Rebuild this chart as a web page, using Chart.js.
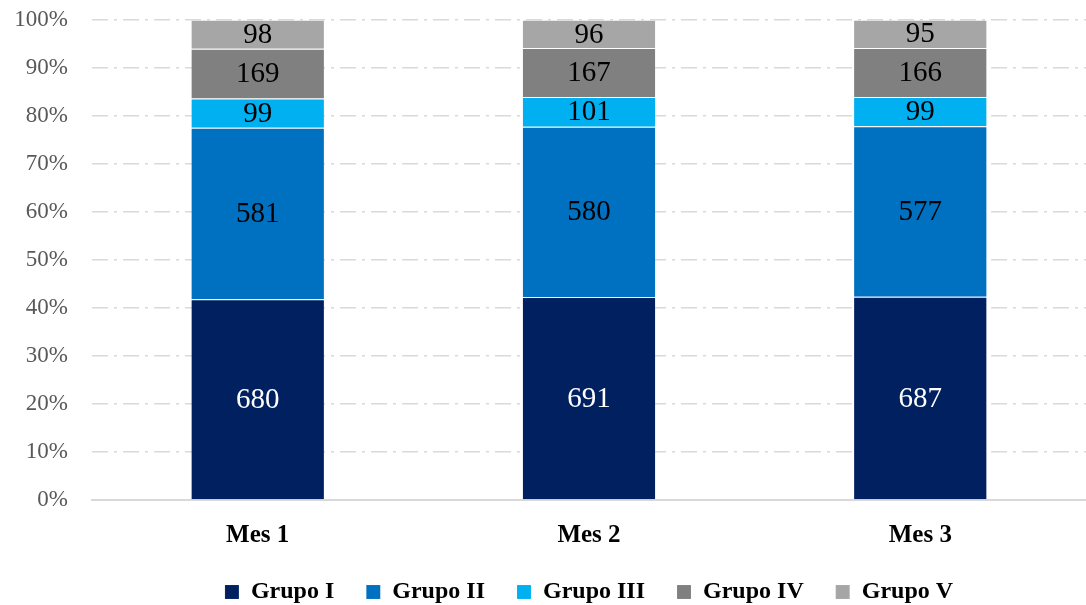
<!DOCTYPE html>
<html>
<head>
<meta charset="utf-8">
<script src="https://cdn.jsdelivr.net/npm/chart.js@4.4.1/dist/chart.umd.min.js"></script>
<style>
    html, body { margin: 0; padding: 0; background: #fff; }
    #wrap { width: 1086px; height: 605px; }
</style>
</head>
<body>
<div id="wrap"><canvas id="myCanvas" width="1086" height="605"></canvas></div>
<script>
const meses = ["Mes 1", "Mes 2", "Mes 3"];
const grupoI = [680, 691, 687];
const grupoII = [581, 580, 577];
const grupoIII = [99, 101, 99];
const grupoIV = [169, 167, 166];
const grupoV = [98, 96, 95];

const grupos = ["Grupo I", "Grupo II", "Grupo III", "Grupo IV", "Grupo V"];
const series = [grupoI, grupoII, grupoIII, grupoIV, grupoV];
const colores = ["#002060", "#0070C0", "#00B0F0", "#808080", "#A6A6A6"];
const colorTexto = ["#ffffff", "#000000", "#000000", "#000000", "#000000"];

const totales = meses.map((m, i) => series.reduce((s, d) => s + d[i], 0));

const fuente = "'Liberation Serif', 'DejaVu Serif', serif";

// etiquetas con el valor original dentro de cada segmento
const etiquetas = {
    id: "etiquetas",
    afterDatasetsDraw(chart) {
        const ctx = chart.ctx;
        ctx.save();
        ctx.font = "29px " + fuente;
        ctx.textAlign = "center";
        ctx.textBaseline = "middle";
        chart.data.datasets.forEach((ds, di) => {
            const meta = chart.getDatasetMeta(di);
            meta.data.forEach((bar, i) => {
                ctx.fillStyle = colorTexto[di];
                ctx.fillText(ds.valores[i], bar.x, (bar.y + bar.base) / 2 + 1);
            });
        });
        ctx.restore();
    }
};

// leyenda mas baja: se fija la altura despues del fit
const altoLeyenda = {
    id: "altoLeyenda",
    afterInit(chart) {
        const lg = chart.legend;
        const fitOrig = lg.fit.bind(lg);
        lg.fit = function () {
            fitOrig();
            this.height = 57;
        };
    }
};

const ctx = document.getElementById("myCanvas").getContext("2d");

var chart = new Chart(ctx, {
    type: "bar",
    data: {
        labels: meses,
        datasets: series.map((d, k) => ({
            label: grupos[k],
            data: d.map((v, i) => v / totales[i] * 100),
            valores: d,
            backgroundColor: colores[k],
            borderColor: "rgba(255,255,255,0.35)",
            borderWidth: { top: 1, bottom: 0, left: 0, right: 0 },
            borderSkipped: false,
            barPercentage: 0.4,
            categoryPercentage: 1.0
        }))
    },
    options: {
        responsive: false,
        animation: false,
        layout: {
            padding: { top: 0, left: 0, bottom: 0, right: 0 }
        },
        scales: {
            x: {
                stacked: true,
                afterFit(scale) { scale.height = 48; },
                grid: { display: false },
                border: { display: true, color: "#d9d9d9", width: 2 },
                ticks: {
                    color: "#000",
                    font: { family: fuente, size: 25, weight: "bold" },
                    padding: 13
                }
            },
            y: {
                stacked: true,
                min: 0,
                max: 100,
                afterFit(scale) { scale.width = 92; },
                grid: { color: "#d9d9d9", lineWidth: 1.5, drawTicks: true, tickLength: 18, tickColor: "rgba(0,0,0,0)" },
                border: { display: false, dash: [16, 6, 3, 6] },
                ticks: {
                    stepSize: 10,
                    color: "#595959",
                    padding: 6,
                    font: { family: fuente, size: 23 },
                    callback: v => v + "%"
                }
            }
        },
        plugins: {
            tooltip: { enabled: false },
            legend: {
                display: true,
                position: "bottom",
                fullSize: false,
                labels: {
                    color: "#000",
                    boxWidth: 14,
                    boxHeight: 14,
                    padding: 32,
                    font: { family: fuente, size: 24, weight: "bold" }
                }
            }
        }
    },
    plugins: [etiquetas, altoLeyenda]
});
</script>
</body>
</html>
